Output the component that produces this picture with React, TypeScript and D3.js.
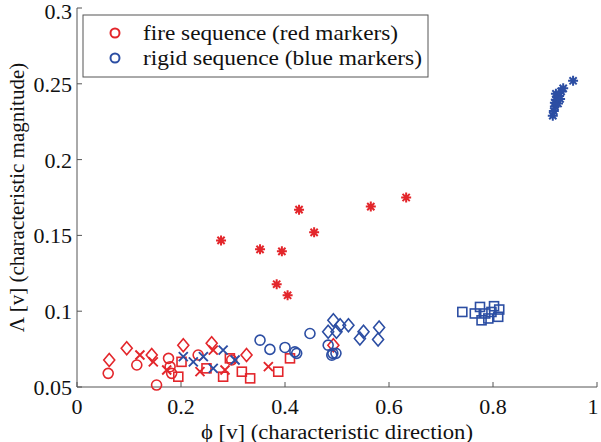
import React from "react";
import * as d3 from "d3";

type P = [number, number];

const RED = "#e3262b";
const BLUE = "#2c4ea3";

const fireCircles: P[] = [[0.06,0.059],[0.115,0.0645],[0.153,0.0513],[0.176,0.0689],[0.179,0.0634],[0.182,0.059],[0.233,0.0711],[0.2975,0.0678]];
const fireDiamonds: P[] = [[0.062,0.0678],[0.0956,0.0755],[0.1437,0.0711],[0.2044,0.0776],[0.259,0.0788],[0.326,0.0711],[0.493,0.0776]];
const fireCrosses: P[] = [[0.121,0.0711],[0.1467,0.0666],[0.1725,0.0612],[0.2365,0.0601],[0.2846,0.0612],[0.262,0.0743],[0.368,0.0634]];
const fireSquares: P[] = [[0.1948,0.0568],[0.201,0.0666],[0.249,0.0623],[0.281,0.0568],[0.294,0.0689],[0.317,0.0601],[0.333,0.0557],[0.387,0.0601],[0.4096,0.0689]];
const fireStars: P[] = [[0.277,0.1467],[0.427,0.167],[0.456,0.152],[0.352,0.1408],[0.394,0.1395],[0.384,0.1178],[0.405,0.1105],[0.565,0.169],[0.633,0.175]];

const rigidCrosses: P[] = [[0.2044,0.07],[0.2237,0.0666],[0.243,0.07],[0.262,0.0623],[0.281,0.0743],[0.304,0.0678]];
const rigidCircles: P[] = [[0.352,0.0809],[0.371,0.0748],[0.4,0.0761],[0.419,0.0732],[0.4225,0.0722],[0.448,0.0853],[0.483,0.0776],[0.492,0.0722],[0.498,0.0722],[0.49,0.071]];
const rigidDiamonds: P[] = [[0.493,0.094],[0.483,0.0864],[0.506,0.0908],[0.499,0.0864],[0.522,0.0908],[0.551,0.0864],[0.544,0.082],[0.581,0.0893],[0.579,0.0814]];
const rigidSquares: P[] = [[0.741,0.0995],[0.775,0.1028],[0.802,0.1033],[0.812,0.1011],[0.765,0.0985],[0.785,0.0985],[0.778,0.094],[0.791,0.0952],[0.81,0.0963],[0.797,0.0995]];
const rigidStars: P[] = [[0.915,0.229],[0.917,0.232],[0.919,0.235],[0.919,0.2375],[0.921,0.2395],[0.923,0.2415],[0.921,0.2434],[0.927,0.242],[0.931,0.245],[0.935,0.247],[0.925,0.237],[0.929,0.24],[0.954,0.252]];

const xTicks = [0, 0.2, 0.4, 0.6, 0.8, 1];
const yTicks = [0.05, 0.1, 0.15, 0.2, 0.25, 0.3];
const legendLabels = ["fire sequence (red markers)", "rigid sequence (blue markers)"];
const legendWidths = [255, 279];

const FONT = "'Liberation Serif', 'Times New Roman', Times, Tinos, 'DejaVu Serif', 'Noto Serif', serif";
const TS: React.CSSProperties = { fontFamily: FONT };

function Marker({ kind, x, y, color }: { kind: string; x: number; y: number; color: string }) {
  const sw = 1.6;
  if (kind === "o") return <circle cx={x} cy={y} r={5} fill="none" stroke={color} strokeWidth={sw} />;
  if (kind === "d")
    return <path d={`M${x},${y - 6.5}L${x + 5.5},${y}L${x},${y + 6.5}L${x - 5.5},${y}Z`} fill="none" stroke={color} strokeWidth={sw} />;
  if (kind === "s") return <rect x={x - 4.5} y={y - 4.5} width={9} height={9} fill="none" stroke={color} strokeWidth={sw} />;
  if (kind === "x") {
    const r = 4.5;
    return <path d={`M${x - r},${y - r}L${x + r},${y + r}M${x - r},${y + r}L${x + r},${y - r}`} stroke={color} strokeWidth={sw + 0.3} />;
  }
  const r = 5, q = 3.6;
  return (
    <path
      d={`M${x - r},${y}L${x + r},${y}M${x},${y - r}L${x},${y + r}M${x - q},${y - q}L${x + q},${y + q}M${x - q},${y + q}L${x + q},${y - q}`}
      stroke={color}
      strokeWidth={2}
    />
  );
}

export default function App() {
  const W = 601, H = 442;
  const x = d3.scaleLinear().domain([0, 1]).range([77, 597]);
  const y = d3.scaleLinear().domain([0.05, 0.3]).range([387, 8]);

  const groups: { data: P[]; kind: string; color: string }[] = [
    { data: fireCircles, kind: "o", color: RED },
    { data: fireDiamonds, kind: "d", color: RED },
    { data: fireCrosses, kind: "x", color: RED },
    { data: fireSquares, kind: "s", color: RED },
    { data: fireStars, kind: "*", color: RED },
    { data: rigidCrosses, kind: "x", color: BLUE },
    { data: rigidCircles, kind: "o", color: BLUE },
    { data: rigidDiamonds, kind: "d", color: BLUE },
    { data: rigidSquares, kind: "s", color: BLUE },
    { data: rigidStars, kind: "*", color: BLUE },
  ];

  const [x0, x1] = x.range();
  const [y0, y1] = y.range();

  return (
    <svg width={W} height={H} style={{ position: "absolute", left: 0, top: 0, background: "#fff", fontFamily: FONT }}>
      <rect width={W} height={H} fill="#fff" />
      <line x1={x0} x2={x1} y1={y0} y2={y0} stroke="#555" strokeWidth={1} />
      <line x1={x0} x2={x0} y1={y0} y2={y1} stroke="#555" strokeWidth={1} />
      {xTicks.map((t) => (
        <g key={"xt" + t}>
          <line x1={x(t)} x2={x(t)} y1={y0} y2={y0 - 5} stroke="#555" />
          <text x={t === 1 ? x(t) - 4 : x(t)} y={414} fontSize={22} textAnchor="middle" fill="#111" style={TS}>
            {String(t)}
          </text>
        </g>
      ))}
      {yTicks.map((t) => (
        <g key={"yt" + t}>
          <line x1={x0} x2={x0 + 5} y1={y(t)} y2={y(t)} stroke="#555" />
          <text x={72} y={t === 0.3 ? y(t) + 11 : y(t) + 8} fontSize={22} textAnchor="end" fill="#111" style={TS}>
            {String(t)}
          </text>
        </g>
      ))}
      <text x={(x0 + x1) / 2} y={439} fontSize={20} textAnchor="middle" fill="#111" style={TS} textLength={272} lengthAdjust="spacingAndGlyphs">
        ϕ [v] (characteristic direction)
      </text>
      <text transform={`translate(24,${(y0 + y1) / 2}) rotate(-90)`} fontSize={21} textAnchor="middle" fill="#111" style={TS}>
        Λ [v] (characteristic magnitude)
      </text>
      {groups.map((g, gi) =>
        g.data.map((d, i) => <Marker key={gi + "-" + i} kind={g.kind} x={x(d[0])} y={y(d[1])} color={g.color} />)
      )}
      <rect x={83} y={15} width={345} height={62} fill="#fff" stroke="#555" strokeWidth={1} />
      {legendLabels.map((l, i) => (
        <g key={l}>
          <circle cx={115} cy={33 + i * 25} r={4.5} fill="none" stroke={i === 0 ? RED : BLUE} strokeWidth={2} />
          <text x={143} y={40 + i * 25} fontSize={21} fill="#111" style={TS} textLength={legendWidths[i]} lengthAdjust="spacingAndGlyphs">
            {l}
          </text>
        </g>
      ))}
    </svg>
  );
}
